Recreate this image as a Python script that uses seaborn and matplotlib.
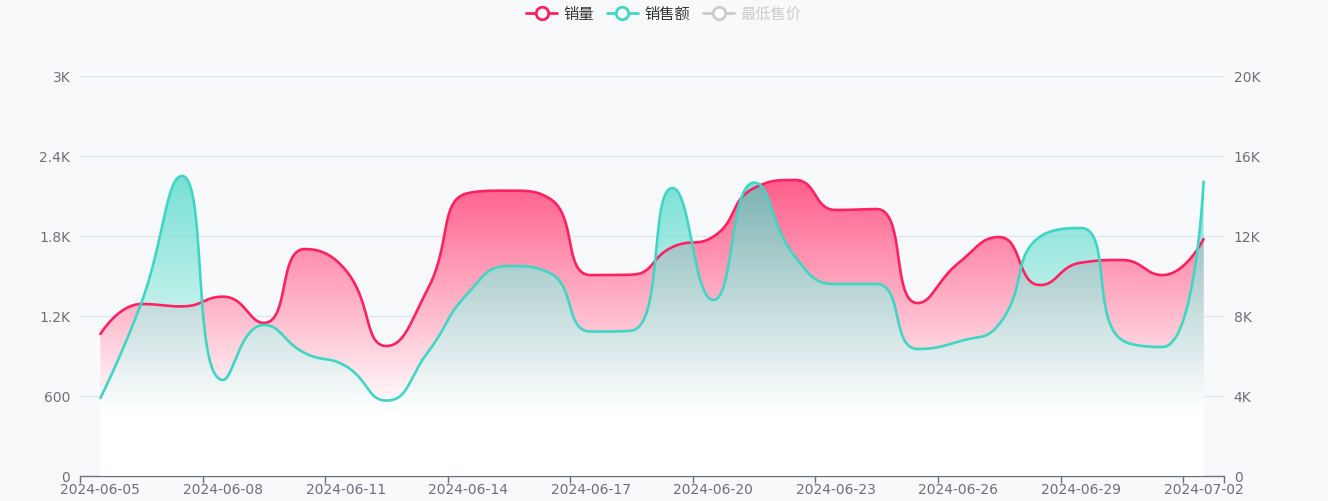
import numpy as np
import pandas as pd
import matplotlib
matplotlib.use('Agg')
import matplotlib.pyplot as plt
from matplotlib.lines import Line2D
from matplotlib.patches import Polygon
from matplotlib.colors import to_rgb
import seaborn as sns

# data
dates = pd.date_range('2024-06-05', '2024-07-02').strftime('%Y-%m-%d').tolist()
sales = [1065, 1290, 1272, 1345, 1148, 1702, 1545, 975, 1395, 2122,
         2140, 2080, 1507, 1510, 1717, 1795, 2160, 2220, 1995, 2002,
         1297, 1597, 1792, 1432, 1600, 1620, 1507, 1777]
amount = [3900, 8650, 15000, 4800, 7550, 6150, 5500, 3770, 6150, 9150,
          10500, 10150, 7220, 7270, 14400, 8800, 14670, 10970, 9600, 9600,
          6350, 6720, 7600, 11970, 12400, 6800, 6450, 14720]
left_ticks = [0, 600, 1200, 1800, 2400, 3000]
left_labels = ['0', '600', '1.2K', '1.8K', '2.4K', '3K']
right_ticks = [0, 4000, 8000, 12000, 16000, 20000]
right_labels = ['0', '4K', '8K', '12K', '16K', '20K']
legend_names = ['销量', '销售额', '最低售价']

PINK = '#ff2161'
PINK_FILL = '#ff5e8a'
TEAL = '#40d6c4'
GREY = '#cccccc'
TXT = '#6e7079'
BG = '#f8f9fb'


def smooth_line(vals, sx, sy, smooth=0.5, n=40):
    # echarts style smoothing, done in pixel space
    px = np.arange(len(vals)) * sx
    py = np.asarray(vals, float) * sy
    out_x, out_y = [px[0]], [py[0]]
    c0 = (px[0], py[0])
    t = np.linspace(0, 1, n)[1:]
    for k in range(1, len(px)):
        x, y = px[k], py[k]
        ppx, ppy = px[k - 1], py[k - 1]
        if k == len(px) - 1:
            c1 = (x, y)
            nc = None
        else:
            nx, ny = px[k + 1], py[k + 1]
            vx, vy = nx - ppx, ny - ppy
            lp = np.hypot(x - ppx, y - ppy)
            ln = np.hypot(nx - x, ny - y)
            r = ln / (ln + lp)
            ncx = x + vx * smooth * r
            ncy = y + vy * smooth * r
            ncx = max(min(ncx, max(nx, x)), min(nx, x))
            ncy = max(min(ncy, max(ny, y)), min(ny, y))
            vx, vy = ncx - x, ncy - y
            c1x = x - vx * lp / ln
            c1y = y - vy * lp / ln
            c1x = max(min(c1x, max(ppx, x)), min(ppx, x))
            c1y = max(min(c1y, max(ppy, y)), min(ppy, y))
            vx, vy = x - c1x, y - c1y
            nc = (x + vx * ln / lp, y + vy * ln / lp)
            c1 = (c1x, c1y)
        bx = (1 - t) ** 3 * ppx + 3 * (1 - t) ** 2 * t * c0[0] + 3 * (1 - t) * t ** 2 * c1[0] + t ** 3 * x
        by = (1 - t) ** 3 * ppy + 3 * (1 - t) ** 2 * t * c0[1] + 3 * (1 - t) * t ** 2 * c1[1] + t ** 3 * y
        out_x.extend(bx)
        out_y.extend(by)
        c0 = nc
    return np.array(out_x) / sx, np.array(out_y) / sy


def grad_fill(axis, xs, ys, color, alpha, white_at=0.78):
    top = ys.max()
    v = np.linspace(0, top, 400)
    f = np.clip((top - v) / (top * white_at), 0, 1)[:, None]
    rgba = np.zeros((400, 1, 4))
    rgba[:, 0, :3] = (1 - f) * np.array(to_rgb(color)) + f
    rgba[:, 0, 3] = alpha
    im = axis.imshow(rgba, extent=[xs[0], xs[-1], 0, top], origin='lower',
                     aspect='auto', interpolation='bilinear', zorder=1)
    poly = Polygon(np.column_stack([np.r_[xs, xs[-1], xs[0]], np.r_[ys, 0, 0]]),
                   closed=True, facecolor='none', edgecolor='none')
    axis.add_patch(poly)
    im.set_clip_path(poly)


sns.set_theme(style='white')
plt.rcParams['font.family'] = ['DejaVu Sans', 'Noto Sans CJK SC']

fig = plt.figure(figsize=(13.28, 5.01), dpi=100, facecolor=BG)
ax = fig.add_axes([80 / 1328, 25 / 501, 1144 / 1328, 400 / 501])
ax.set_facecolor(BG)
ax2 = ax.twinx()
ax2.patch.set_visible(False)

step = 1144 / 28
xs1, ys1 = smooth_line(sales, step, 400 / 3000)
xs2, ys2 = smooth_line(amount, step, 400 / 20000)
ratio = 20000 / 3000

for yv in left_ticks[1:]:
    ax.axhline(yv, color='#e0e6f1', lw=1, zorder=0)

# areas first, both lines on top of them
grad_fill(ax, xs1, ys1, PINK_FILL, 1.0)
grad_fill(ax2, xs2, ys2, TEAL, 0.7)
sns.lineplot(x=xs1, y=ys1 * ratio, ax=ax2, color=PINK, lw=1.9, sort=False, estimator=None, zorder=3)
sns.lineplot(x=xs2, y=ys2, ax=ax2, color=TEAL, lw=1.9, sort=False, estimator=None, zorder=4)

for a in (ax, ax2):
    a.set_xlim(-0.5, len(dates) - 0.5)
    for s in a.spines.values():
        s.set_visible(False)
    a.set_xlabel('')
    a.set_ylabel('')
ax.spines['bottom'].set_visible(True)
ax.spines['bottom'].set_color(TXT)
ax.spines['bottom'].set_linewidth(1)

ax.set_ylim(0, 3000)
ax2.set_ylim(0, 20000)
ax.set_yticks(left_ticks, left_labels)
ax2.set_yticks(right_ticks, right_labels)
ax.tick_params(axis='y', length=0, pad=7, labelsize=10, labelcolor=TXT)
ax2.tick_params(axis='y', length=0, pad=7, labelsize=10, labelcolor=TXT)

idx = list(range(0, len(dates), 3))
ax.set_xticks(idx, [dates[i] for i in idx])
ax.set_xticks([i - 0.5 for i in idx] + [len(dates) - 0.5], minor=True)
ax.tick_params(axis='x', which='major', length=0, pad=5, labelsize=10, labelcolor=TXT)
ax.tick_params(axis='x', which='minor', length=5, width=1, color=TXT, direction='out', bottom=True)
ax2.tick_params(axis='x', which='both', length=0, labelbottom=False)

handles = [Line2D([], [], color=c, lw=2, marker='o', markersize=9,
                  markerfacecolor='white', markeredgewidth=2, markeredgecolor=c)
           for c in (PINK, TEAL, GREY)]
leg = fig.legend(handles, legend_names, loc='center', bbox_to_anchor=(0.5, 1 - 14 / 501),
                 ncol=3, frameon=False, fontsize=11, handlelength=2.0,
                 handletextpad=0.45, columnspacing=0.85)
for txt, c in zip(leg.get_texts(), ['#333333', '#333333', GREY]):
    txt.set_color(c)

fig.savefig('out.png', dpi=100, facecolor=BG)
